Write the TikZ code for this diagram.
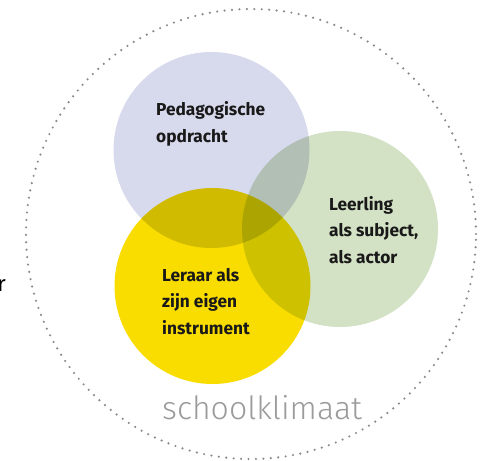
\documentclass[tikz,border=0pt]{standalone}
\usepackage{fontspec}
\setmainfont{Fira Sans}
\newfontfamily\lightfont{Fira Sans Light}
\usetikzlibrary{positioning}

\definecolor{opdrachtblue}{HTML}{D7D9EC}
\definecolor{leerlinggreen}{HTML}{D3E1C4}
\definecolor{leraaryellow}{HTML}{F9DC00}
\definecolor{klimaatgray}{HTML}{9B9B9B}
\definecolor{stipgray}{HTML}{8A8A8A}

\begin{document}
\begin{tikzpicture}[x = 1pt, y = -1pt,
  bol/.style = {circle, inner sep = 0pt, minimum size = 196pt},
  bolkop/.style = {anchor = base west, align = left, inner sep = 0pt,
    font = \bfseries\fontsize{17.3}{26.5}\selectfont, text = black!90}]
\useasboundingbox (0,0) rectangle (486,460);
\node[circle, draw = stipgray, line width = 2.4pt, line cap = round,
  dash pattern = on 0pt off 7.45pt, inner sep = 0pt, minimum size = 450pt] (klimaat) at (251,234) {};
\begin{scope}[blend group = multiply]
\node[bol, fill = opdrachtblue] (opdracht) at (211.5,150) {};
\node[bol, fill = leerlinggreen] (leerling) at (340,229) {};
\node[bol, fill = leraaryellow] (leraar) at (212.5,286) {};
\end{scope}
% anker = basislijn van de laatste regel
\node[bolkop] (opdrachttekst) at (156,142) {Pedagogische\\opdracht};
\node[bolkop] (leerlingtekst) at (329,263) {Leerling\\als subject,\\als actor};
\node[bolkop] (leraartekst) at (162,334) {Leraar als\\zijn eigen\\instrument};
\node[anchor = base west, inner sep = 0pt, text = klimaatgray,
  font = \lightfont\fontsize{32}{38}\selectfont] (klimaattekst) at (162,419) {schoolklimaat};
% afgesneden tekst links
\node[anchor = base east, inner sep = 0pt, font = \fontsize{22}{26}\selectfont] (rest) at (6,291) {r};
\end{tikzpicture}
\end{document}
